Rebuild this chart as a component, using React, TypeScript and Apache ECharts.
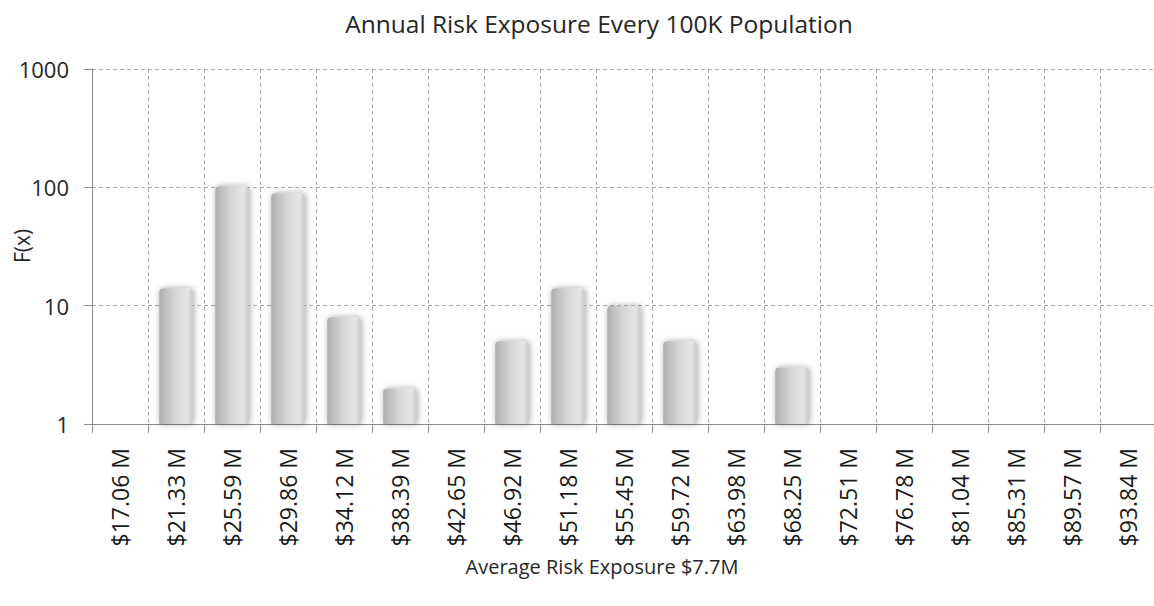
import React, { useEffect, useRef } from "react";
import * as echarts from "echarts";

const categories = [
  "$17.06 M", "$21.33 M", "$25.59 M", "$29.86 M", "$34.12 M", "$38.39 M",
  "$42.65 M", "$46.92 M", "$51.18 M", "$55.45 M", "$59.72 M", "$63.98 M",
  "$68.25 M", "$72.51 M", "$76.78 M", "$81.04 M", "$85.31 M", "$89.57 M", "$93.84 M",
];
const frequencies: (number | string)[] = [
  "-", 14, 102, 89, 8, 2, "-", 5, 14, 10, 5, "-", 3, 1, "-", "-", "-", "-", 1,
];
const yTicks = [1, 10, 100, 1000];

const FONT = "'Open Sans', sans-serif";

export default function App() {
  const ref = useRef<HTMLDivElement>(null);
  useEffect(() => {
    document.body.style.margin = "0";
    const chart = echarts.init(ref.current!, null, { renderer: "svg" });
    chart.setOption({
      animation: false,
      backgroundColor: "#ffffff",
      textStyle: { fontFamily: FONT },
      title: [
        {
          text: "Annual Risk Exposure Every 100K Population",
          left: 594,
          top: 6,
          textAlign: "center",
          textStyle: { fontFamily: FONT, fontSize: 24.5, fontWeight: "normal", color: "#262626" },
        },
        {
          text: "Average Risk Exposure $7.7M",
          left: 597,
          top: 551,
          textAlign: "center",
          textStyle: { fontFamily: FONT, fontSize: 20, fontWeight: "normal", color: "#262626" },
        },
      ],
      graphic: [
        {
          type: "text",
          x: 22,
          y: 246,
          rotation: Math.PI / 2,
          style: {
            text: "F(x)",
            fontFamily: FONT,
            fontSize: 21,
            fill: "#262626",
            align: "center",
            verticalAlign: "middle",
          },
        },
      ],
      grid: {
        left: 92,
        right: 8,
        top: 69,
        bottom: 182,
        containLabel: false,
        outerBoundsMode: "none",
      },
      xAxis: {
        type: "category",
        data: categories,
        boundaryGap: true,
        axisLine: { show: true, lineStyle: { color: "#8c8c8c", width: 1 } },
        axisTick: { show: true, interval: 0, length: 9, lineStyle: { color: "#8c8c8c" } },
        axisLabel: {
          interval: 0,
          rotate: 90,
          margin: 24,
          fontSize: 23,
          color: "#1a1a1a",
          fontFamily: FONT,
        },
        splitLine: {
          show: true,
          interval: 0,
          lineStyle: { color: "#a6a6a6", type: [4, 3], width: 1 },
        },
      },
      yAxis: {
        type: "log",
        logBase: 10,
        min: yTicks[0],
        max: yTicks[yTicks.length - 1],
        axisLine: { show: true, lineStyle: { color: "#8c8c8c", width: 1 } },
        axisTick: { show: true, length: 8, lineStyle: { color: "#8c8c8c" } },
        axisLabel: {
          margin: 23,
          fontSize: 22,
          color: "#262626",
          fontFamily: FONT,
          formatter: (v: number) => String(Math.round(v)),
        },
        splitLine: { show: true, lineStyle: { color: "#a6a6a6", type: [4, 3], width: 1 } },
      },
      series: [
        {
          type: "bar",
          data: frequencies,
          barWidth: "60%",
          itemStyle: {
            borderRadius: [4, 4, 0, 0],
            color: new echarts.graphic.LinearGradient(0, 0, 1, 0, [
              { offset: 0, color: "#b0b0b0" },
              { offset: 0.45, color: "#d4d4d4" },
              { offset: 0.85, color: "#e6e6e6" },
              { offset: 1, color: "#c8c8c8" },
            ]),
            shadowBlur: 6,
            shadowColor: "rgba(0,0,0,0.35)",
            shadowOffsetX: 1,
            shadowOffsetY: 0,
          },
        },
      ],
    });
    return () => chart.dispose();
  }, []);
  return (
    <div style={{ width: 1154, height: 606, overflow: "hidden", position: "relative" }}>
      <div ref={ref} style={{ width: 1164, height: 606, position: "absolute", left: 0, top: 0 }} />
    </div>
  );
}
